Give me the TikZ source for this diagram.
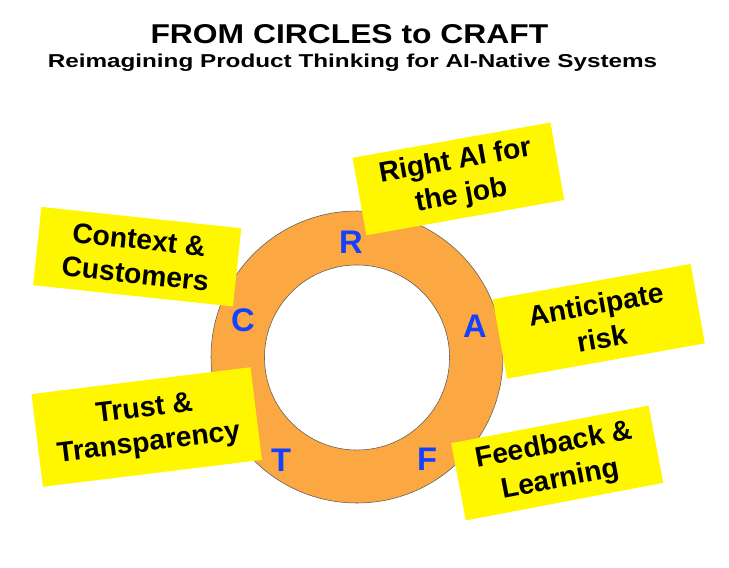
\documentclass[tikz,border=0pt]{standalone}
\usepackage{fontspec}
\setmainfont{Liberation Sans}
\usepackage{tikz}
\usetikzlibrary{positioning}
\definecolor{ringorange}{RGB}{251,167,66}
\definecolor{noteyellow}{RGB}{255,247,0}
\definecolor{letterblue}{RGB}{20,64,255}

\tikzset{
    headline/.style={anchor=base,inner sep=0pt,font=\fontsize{20.4pt}{24pt}\selectfont\bfseries,xscale=1.17,transform shape},
    subline/.style={anchor=base,inner sep=0pt,font=\fontsize{14pt}{17pt}\selectfont\bfseries,xscale=1.3,transform shape},
    note/.style={fill=noteyellow,minimum width=150.75pt,minimum height=59pt,inner sep=0pt,align=center,font=\fontsize{21.2pt}{26pt}\selectfont\bfseries},
    letter/.style={text=letterblue,inner sep=0pt,font=\fontsize{24.5pt}{28pt}\selectfont\bfseries}
}

\begin{document}
\begin{tikzpicture}[x=0.75pt,y=-0.75pt]
    \useasboundingbox (0,0) rectangle (729,568);

    \node[headline] (title) at (349.4,43.3) {FROM CIRCLES to CRAFT};
    \node[subline] (subtitle) at (352.5,67.3) {Reimagining Product Thinking for AI-Native Systems};

    %ring
    \coordinate (ctr) at (357,357);
    \coordinate (hole) at (357,357.5);
    \fill[ringorange,even odd rule] (ctr) circle[radius=109.5pt] (hole) circle[radius=69.4pt];
    \draw[gray!70!black,line width=0.4pt] (ctr) circle[radius=109.5pt];
    \draw[gray!70!black,line width=0.4pt] (hole) circle[radius=69.4pt];

    \node[note,rotate=-6.1] (context) at (137.2,256.7) {Context \&\\Customers};
    \node[note,rotate=10.1] (rightai) at (458.4,178.9) {Right AI for\\the job};
    \node[note,rotate=10.1,minimum height=60.5pt] (risk) at (598.8,321.3) {Anticipate\\risk};
    \node[note,rotate=7,minimum width=165.5pt,minimum height=70pt] (trust) at (146.7,427) {Trust \&\\Transparency};
    \node[note,rotate=10.8] (feedback) at (557.2,463) {Feedback \&\\Learning};

    \node[letter] (r) at (351,242) {R};
    \node[letter] (a) at (475,326) {A};
    \node[letter] (f) at (427,459) {F};
    \node[letter] (t) at (281,460) {T};
    \node[letter] (c) at (243,320) {C};
\end{tikzpicture}
\end{document}
